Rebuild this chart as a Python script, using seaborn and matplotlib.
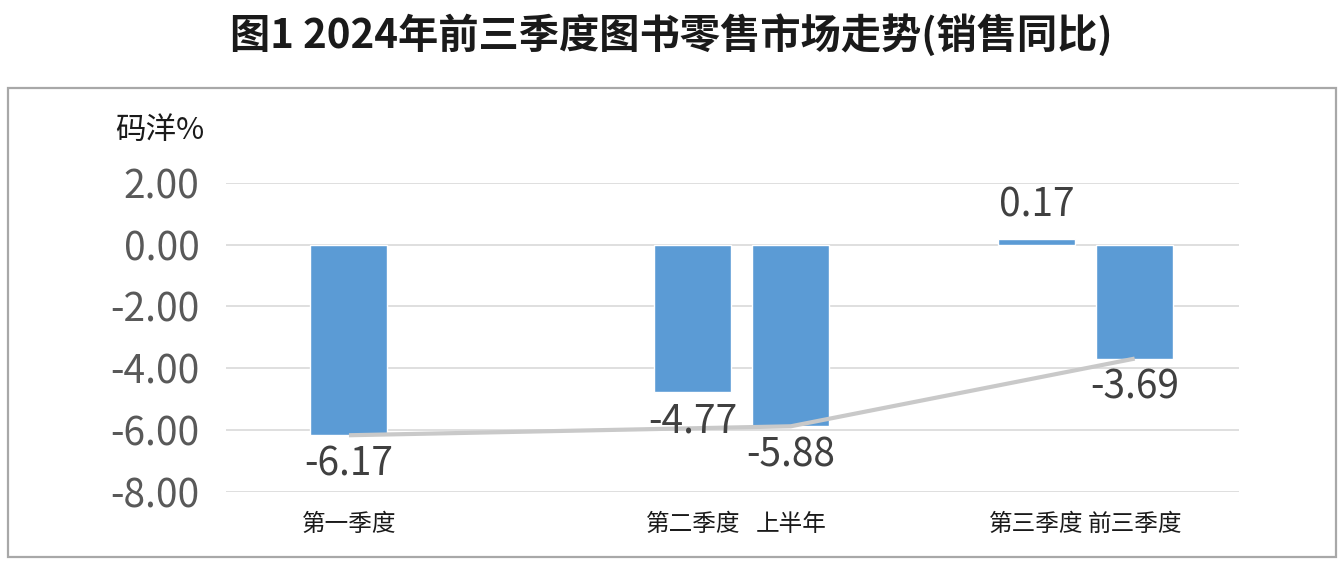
import matplotlib
matplotlib.use("Agg")
import matplotlib.pyplot as plt
import matplotlib.patches as mpatches
import seaborn as sns
import pandas as pd
import numpy as np

# ---- data ----
categories = ["第一季度", "第二季度", "上半年", "第三季度", "前三季度"]
values = [-6.17, -4.77, -5.88, 0.17, -3.69]
groups = ["g1", "g2", "g2", "g3", "g3"]
series = ["季度", "季度", "累计", "季度", "累计"]
trend_categories = ["第一季度", "上半年", "前三季度"]
yticks = [2, 0, -2, -4, -6, -8]
title = "图1 2024年前三季度图书零售市场走势(销售同比)"
ylabel = "码洋%"

sns.set_theme(style="white")
plt.rcParams["font.family"] = ["Noto Sans CJK SC", "DejaVu Sans"]
plt.rcParams["axes.unicode_minus"] = False

df = pd.DataFrame({"category": categories, "value": values,
                   "group": groups, "series": series})

fig = plt.figure(figsize=(13.43, 5.64), dpi=100)
ax = fig.add_axes([0.1683, 0.128, 0.9226 - 0.1683, 0.676 - 0.128])

bar_color = "#5b9bd5"
sns.barplot(data=df, x="group", y="value", hue="series",
            order=["g1", "g2", "g3"], hue_order=["季度", "累计"],
            palette=[bar_color, bar_color], width=0.57, gap=0.214,
            saturation=1, dodge=True, legend=False, ax=ax, zorder=2,
            errorbar=None)

# bar centres from the drawn patches
bars = [p for p in ax.patches if p.get_width() > 0 and p.get_height() != 0]
bars.sort(key=lambda p: p.get_x())
centers = [p.get_x() + p.get_width() / 2 for p in bars]
pos = dict(zip(categories, centers))
val = dict(zip(categories, values))

# trend line (cumulative)
ax.plot([pos[c] for c in trend_categories], [val[c] for c in trend_categories],
        color="#c9c9c9", lw=3.0, zorder=4, solid_capstyle="butt")

# data labels
for c in categories:
    v = val[c]
    off = 24 if v > 0 else -21
    ax.annotate(f"{v:.2f}", (pos[c], v), xytext=(0, off), textcoords="offset points",
                ha="center", va="center", fontsize=28, color="#404040", zorder=5)

ax.set_xlim(-0.5, 2.446)
ax.set_ylim(-8, 2)
ax.set_yticks(yticks)
ax.set_yticklabels([f"{t:.2f}" for t in yticks])
ax.set_xticks(centers)
ax.set_xticklabels(categories)
ax.tick_params(axis="y", length=0, pad=19, labelsize=28, labelcolor="#595959")
ax.tick_params(axis="x", length=0, pad=15, labelsize=17, labelcolor="#1a1a1a")
ax.set_xlabel("")
ax.set_ylabel("")
for s in ax.spines.values():
    s.set_visible(False)
ax.yaxis.grid(True, color="#d9d9d9", lw=1.2, zorder=0)
ax.xaxis.grid(False)
ax.set_axisbelow(True)

fig.text(160 / 1343, 1 - 130 / 564, ylabel, ha="center", va="center",
         fontsize=22, color="#1a1a1a")
fig.text(0.5, 1 - 36 / 564, title, ha="center", va="center",
         fontsize=29, fontweight="bold", color="#1a1a1a")

border = mpatches.Rectangle((8 / 1343, 1 - 557 / 564), 1328 / 1343, 469 / 564,
                            transform=fig.transFigure, fill=False,
                            edgecolor="#a8a8a8", lw=1.6, zorder=0)
fig.add_artist(border)

fig.savefig("out.png", dpi=100)
